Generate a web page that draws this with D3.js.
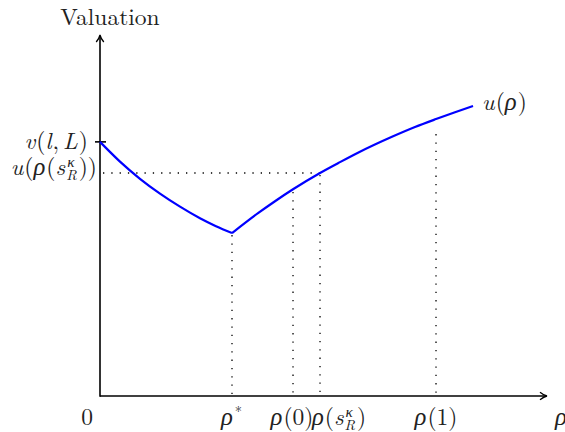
<!DOCTYPE html>
<html>
<head>
<meta charset="utf-8">
<script src="https://cdn.jsdelivr.net/npm/d3@7"></script>
<style>
  html, body { margin: 0; padding: 0; background: #fff; }
  svg { display: block; }
</style>
</head>
<body>
<div id="chart"></div>
<script>
// ---- data (rho in [0,1], valuation in [0,1]) ----
const leftRho  = [0.000, 0.0447, 0.0895, 0.1342, 0.1790, 0.2237, 0.2595, 0.2953];
const leftVal  = [0.702, 0.6475, 0.600, 0.559, 0.523, 0.491, 0.469, 0.450];
const rightRho = [0.2953, 0.3535, 0.3915, 0.4318, 0.4922, 0.5369, 0.5772, 0.6532, 0.7047, 0.7517, 0.7942, 0.8345];
const rightVal = [0.450, 0.505, 0.538, 0.571, 0.616, 0.646, 0.672, 0.716, 0.743, 0.765, 0.784, 0.801];

const markRho   = [0.2953, 0.4318, 0.4922, 0.7517];     // rho*, rho(0), rho(s), rho(1)
const markTop   = [0.450, 0.569, 0.616, 0.729];        // where each dotted guide starts
const vLL = 0.702;                                      // v(l,L)
const uS  = 0.616;                                      // u(rho(s_R^kappa))

// tick labels: pieces {t, i(italic), g(greek), sup, sub, gap}
const xTickLabels = [
  [{t:"ρ", i:true, g:true}, {sup:"*", up:true}],
  [{t:"ρ", i:true, g:true}, {t:"(0)"}],
  [{t:"ρ", i:true, g:true}, {t:"("}, {t:"s", i:true}, {sup:"κ", sub:"R"}, {t:")"}],
  [{t:"ρ", i:true, g:true}, {t:"(1)"}]
];
const xTickAnchor = ["middle", "middle", "start", "middle"];
const xTickPos    = [0.2953, 0.4295, 0.474, 0.7517];
const yTickLabels = [
  [{t:"v", i:true}, {t:"("}, {t:"l", i:true}, {t:","}, {gap:4}, {t:"L", i:true}, {t:")"}],
  [{t:"u", i:true}, {t:"("}, {t:"ρ", i:true, g:true}, {t:"("}, {t:"s", i:true}, {sup:"κ", sub:"R"}, {t:"))"}]
];
const curveLabel = [{t:"u", i:true}, {t:"("}, {t:"ρ", i:true, g:true}, {t:")"}];
const yTitle = "Valuation";

// ---- drawing ----
const W = 565, H = 432;
const FONT = "'Latin Modern Roman', 'Liberation Serif', serif";
const GREEK = "'Liberation Serif', 'DejaVu Serif', serif";
const svg = d3.select("#chart").append("svg").attr("width", W).attr("height", H);

const x = d3.scaleLinear().domain([0, 1]).range([100, 547]);
const y = d3.scaleLinear().domain([0, 1]).range([396, 34]);

const FS = 23.5, FSS = 14.5;

function txt(g, s, xx, yy, size, italic, greek) {
  return g.append("text").attr("x", xx).attr("y", yy)
    .attr("font-family", greek ? GREEK : FONT).attr("font-size", greek ? size * 1.05 : size)
    .attr("font-style", italic ? "italic" : "normal").attr("fill", "#222").text(s);
}

function mathLabel(parts, x0, baseline, anchor) {
  const g = svg.append("g");
  let cx = 0;
  parts.forEach(p => {
    if (p.gap !== undefined) { cx += p.gap; return; }
    if (p.sup !== undefined) {
      const t1 = txt(g, p.sup, cx + 1, baseline - 8, FSS, !p.up, p.sup === "κ");
      let w = t1.node().getComputedTextLength();
      if (p.sub) {
        const t2 = txt(g, p.sub, cx, baseline + 4.5, FSS, true);
        w = Math.max(w, t2.node().getComputedTextLength());
      }
      cx += w + 2;
    } else {
      const t = txt(g, p.t, cx, baseline, FS, p.i, p.g);
      cx += t.node().getComputedTextLength() + (p.i ? 1 : 0);
    }
  });
  const shift = anchor === "end" ? x0 - cx : anchor === "middle" ? x0 - cx / 2 : x0;
  g.attr("transform", `translate(${shift},0)`);
  return g;
}

// dotted guides
function dotted(x1, y1, x2, y2) {
  svg.append("line").attr("x1", x1).attr("y1", y1).attr("x2", x2).attr("y2", y2)
    .attr("stroke", "#000").attr("stroke-width", 1.3).attr("stroke-dasharray", "1.3,7");
}
dotted(x(0) + 3, y(uS), x(markRho[2]), y(uS));
markRho.forEach((r, i) => dotted(x(r), y(markTop[i]) + 2, x(r), y(0)));

// axes via d3 (no ticks), plus arrow heads
svg.append("g").attr("transform", `translate(0,${y(0)})`)
  .call(d3.axisBottom(x).tickValues([]).tickSizeOuter(0))
  .call(g => g.select(".domain").attr("stroke", "#000").attr("stroke-width", 1.6)
    .attr("d", `M${x(0)},0H${x(1) - 1}`));
svg.append("g").attr("transform", `translate(${x(0)},0)`)
  .call(d3.axisLeft(y).tickValues([]).tickSizeOuter(0))
  .call(g => g.select(".domain").attr("stroke", "#000").attr("stroke-width", 1.6)
    .attr("d", `M0,${y(0) + 0.8}V${y(1) + 2}`));
const ax = x(1), ay = y(0);
svg.append("path").attr("d", `M${ax - 7},${ay - 3.8} Q${ax - 3},${ay - 0.6} ${ax},${ay} Q${ax - 3},${ay + 0.6} ${ax - 7},${ay + 3.8}`)
  .attr("fill", "none").attr("stroke", "#000").attr("stroke-width", 1.3);
const bx = x(0), by = y(1) + 1;
svg.append("path").attr("d", `M${bx - 3.8},${by + 7} Q${bx - 0.6},${by + 3} ${bx},${by} Q${bx + 0.6},${by + 3} ${bx + 3.8},${by + 7}`)
  .attr("fill", "none").attr("stroke", "#000").attr("stroke-width", 1.3);

// tick mark for v(l,L)
svg.append("line").attr("x1", x(0) - 5).attr("x2", x(0) + 6).attr("y1", y(vLL)).attr("y2", y(vLL))
  .attr("stroke", "#000").attr("stroke-width", 1.6);

// curve
const line = d3.line().x(d => x(d[0])).y(d => y(d[1])).curve(d3.curveMonotoneX);
svg.append("path").datum(d3.zip(leftRho, leftVal)).attr("d", line)
  .attr("fill", "none").attr("stroke", "#0000ff").attr("stroke-width", 2.2);
svg.append("path").datum(d3.zip(rightRho, rightVal)).attr("d", line)
  .attr("fill", "none").attr("stroke", "#0000ff").attr("stroke-width", 2.2);

// labels
txt(svg, yTitle, 110, 25, FS, false).attr("text-anchor", "middle");
mathLabel(yTickLabels[0], 88, 149, "end");
mathLabel(yTickLabels[1], 97, 175, "end");
mathLabel(curveLabel, 482, 110, "start");
mathLabel([{t:"0"}], 87, 425, "middle");
xTickLabels.forEach((lab, i) => mathLabel(lab, x(xTickPos[i]), 425, xTickAnchor[i]));
mathLabel([{t:"ρ", i:true, g:true}], 555, 425, "start");
</script>
</body>
</html>
